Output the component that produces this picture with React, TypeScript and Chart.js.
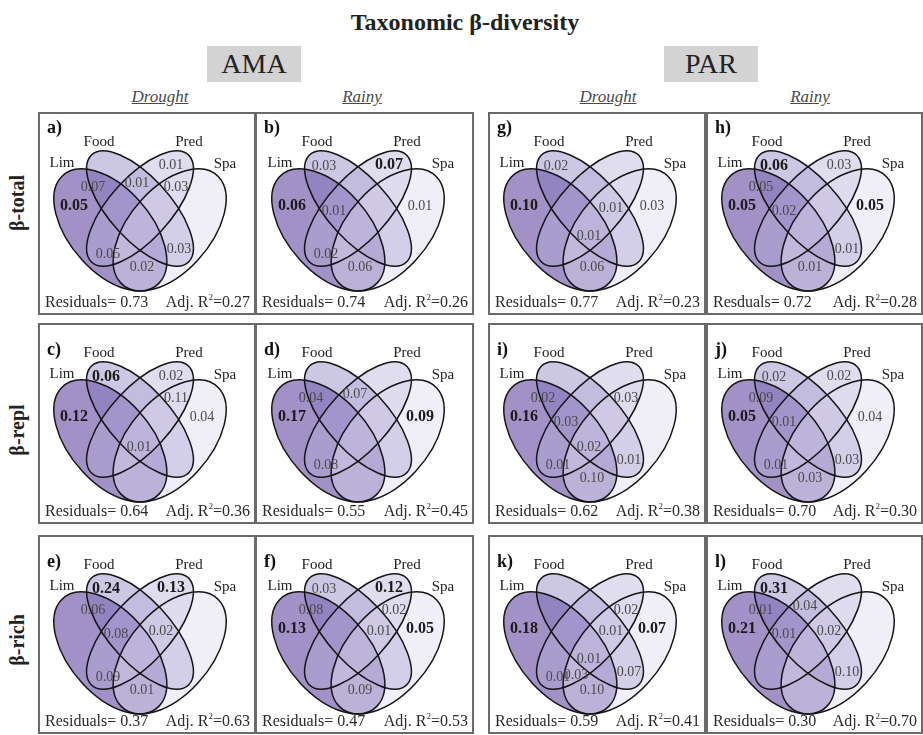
import React, { useEffect, useRef } from "react";
import { Chart, registerables } from "chart.js";

Chart.register(...registerables);

// ---------------- data ----------------
const figureTitle = "Taxonomic β-diversity";
const siteNames = ["AMA", "PAR"];
const seasonNames = ["Drought", "Rainy", "Drought", "Rainy"];
const componentNames = ["β-total", "β-repl", "β-rich"];
const setNames = ["Lim", "Food", "Pred", "Spa"];

// panels in grid order (row by row)
const panelLetters = ["a)", "b)", "g)", "h)", "c)", "d)", "i)", "j)", "e)", "f)", "k)", "l)"];
const residualWords = [
  "Residuals", "Residuals", "Residuals", "Resduals",
  "Residuals", "Residuals", "Residuals", "Residuals",
  "Residuals", "Residuals", "Residuals", "Residuals",
];
const residualValues = [0.73, 0.74, 0.77, 0.72, 0.64, 0.55, 0.62, 0.7, 0.37, 0.47, 0.59, 0.3];
const adjR2Values = [0.27, 0.26, 0.23, 0.28, 0.36, 0.45, 0.38, 0.3, 0.63, 0.53, 0.41, 0.7];

// region keys: L=Lim, F=Food, P=Pred, S=Spa (combinations = shared fractions)
const regionsA = ["LF", "FP", "P", "PS", "L", "FS", "LP", "LS"];
const valuesA = [0.07, 0.01, 0.01, 0.03, 0.05, 0.03, 0.05, 0.02];
const signifA = ["L"];

const regionsB = ["F", "P", "L", "LFP", "S", "LP", "LS"];
const valuesB = [0.03, 0.07, 0.06, 0.01, 0.01, 0.02, 0.06];
const signifB = ["P", "L"];

const regionsG = ["F", "L", "FPS", "S", "LFPS", "LS"];
const valuesG = [0.02, 0.1, 0.01, 0.03, 0.01, 0.06];
const signifG = ["L"];

const regionsH = ["F", "P", "LF", "LFP", "L", "S", "FS", "LS"];
const valuesH = [0.06, 0.03, 0.05, 0.02, 0.05, 0.05, 0.01, 0.01];
const signifH = ["F", "L", "S"];

const regionsC = ["F", "P", "PS", "S", "L", "LFPS"];
const valuesC = [0.06, 0.02, 0.11, 0.04, 0.12, 0.01];
const signifC = ["F", "L"];

const regionsD = ["LF", "FP", "L", "S", "LP"];
const valuesD = [0.04, 0.07, 0.17, 0.09, 0.08];
const signifD = ["L", "S"];

const regionsI = ["LF", "PS", "L", "LFP", "LFPS", "FS", "LP", "LS"];
const valuesI = [0.02, 0.03, 0.16, 0.03, 0.02, 0.01, 0.01, 0.1];
const signifI = ["L"];

const regionsJ = ["F", "P", "LF", "L", "LFP", "S", "FS", "LP", "LS"];
const valuesJ = [0.02, 0.02, 0.09, 0.05, 0.01, 0.04, 0.03, 0.01, 0.03];
const signifJ = ["L"];

const regionsE = ["F", "P", "LF", "LFP", "FPS", "LP", "LS"];
const valuesE = [0.24, 0.13, 0.06, 0.08, 0.02, 0.09, 0.01];
const signifE = ["F", "P"];

const regionsF = ["F", "P", "LF", "PS", "L", "FPS", "S", "LS"];
const valuesF = [0.03, 0.12, 0.08, 0.02, 0.13, 0.01, 0.05, 0.09];
const signifF = ["P", "L", "S"];

const regionsK = ["PS", "L", "FPS", "S", "FS", "LFPS", "LP", "LPS", "LS"];
const valuesK = [0.02, 0.18, 0.01, 0.07, 0.07, 0.01, 0.01, 0.03, 0.1];
const signifK = ["L", "S"];

const regionsL = ["F", "LF", "FP", "L", "LFP", "FPS", "FS"];
const valuesL = [0.31, 0.01, 0.04, 0.21, 0.01, 0.02, 0.1];
const signifL = ["F", "L"];

const PANELS = [
  { regions: regionsA, values: valuesA, signif: signifA },
  { regions: regionsB, values: valuesB, signif: signifB },
  { regions: regionsG, values: valuesG, signif: signifG },
  { regions: regionsH, values: valuesH, signif: signifH },
  { regions: regionsC, values: valuesC, signif: signifC },
  { regions: regionsD, values: valuesD, signif: signifD },
  { regions: regionsI, values: valuesI, signif: signifI },
  { regions: regionsJ, values: valuesJ, signif: signifJ },
  { regions: regionsE, values: valuesE, signif: signifE },
  { regions: regionsF, values: valuesF, signif: signifF },
  { regions: regionsK, values: valuesK, signif: signifK },
  { regions: regionsL, values: valuesL, signif: signifL },
];

// ---------------- layout (Venn unit space, y up) ----------------
const REGION_POS: Record<string, [number, number]> = {
  L: [0.167, 0.582],
  F: [0.328, 0.769],
  P: [0.657, 0.773],
  S: [0.813, 0.582],
  LF: [0.263, 0.671],
  FP: [0.485, 0.689],
  PS: [0.682, 0.671],
  LFP: [0.379, 0.558],
  FPS: [0.606, 0.572],
  LFPS: [0.495, 0.442],
  LP: [0.338, 0.357],
  FS: [0.697, 0.381],
  LS: [0.51, 0.297],
  LPS: [0.429, 0.367],
  LFS: [0.581, 0.367],
};

const ELLIPSES = [
  { cx: 0.35, cy: 0.47, a: 0.35, b: 0.2, rot: 135, fill: "rgba(88,58,155,0.56)" }, // Lim
  { cx: 0.5, cy: 0.57, a: 0.35, b: 0.15, rot: 135, fill: "rgba(120,108,182,0.38)" }, // Food
  { cx: 0.5, cy: 0.57, a: 0.35, b: 0.15, rot: 45, fill: "rgba(180,174,218,0.42)" }, // Pred
  { cx: 0.65, cy: 0.47, a: 0.35, b: 0.2, rot: 45, fill: "rgba(222,218,238,0.45)" }, // Spa
];

const SET_LABEL_POS: [number, number][] = [
  [0.106, 0.783],
  [0.293, 0.881],
  [0.747, 0.881],
  [0.929, 0.778],
];

const COL_X = [38, 255, 488, 706];
const COL_W = [218, 219, 218, 217];
const ROW_Y = [112, 323, 535];
const ROW_H = [203, 201, 199];
const LETTER_V = [0.946, 0.895, 0.895];
const SX = 198; // px per unit (x)
const SY = 214; // px per unit (y)
const ORIGIN_X = 102; // px in panel where u = 0.5
const ORIGIN_Y = 111.5; // px in panel where v = 0.5

const FONT = '"Liberation Serif", "Times New Roman", serif';

function VennPanel({ idx }: { idx: number }) {
  const ref = useRef<HTMLCanvasElement>(null);
  const col = idx % 4;
  const row = Math.floor(idx / 4);
  const W = COL_W[col];
  const H = ROW_H[row];

  useEffect(() => {
    const p = PANELS[idx];
    const ox = ORIGIN_X + (col === 1 ? 1 : 0);
    const xmin = 0.5 - ox / SX;
    const xmax = xmin + W / SX;
    const ymax = 0.5 + ORIGIN_Y / SY;
    const ymin = ymax - H / SY;
    const pts = p.regions.map((r, i) => ({
      x: REGION_POS[r][0],
      y: REGION_POS[r][1],
      v: p.values[i],
      sig: p.signif.includes(r),
    }));

    const plugin = {
      id: "venn" + idx,
      beforeDatasetsDraw(chart: any) {
        const ctx = chart.ctx as CanvasRenderingContext2D;
        const xs = chart.scales.x;
        const ys = chart.scales.y;
        const sx = xs.getPixelForValue(1) - xs.getPixelForValue(0);
        const sy = ys.getPixelForValue(0) - ys.getPixelForValue(1);
        const path = (e: any) => {
          ctx.save();
          ctx.translate(xs.getPixelForValue(e.cx), ys.getPixelForValue(e.cy));
          ctx.scale(sx, -sy);
          ctx.rotate((e.rot * Math.PI) / 180);
          ctx.beginPath();
          ctx.ellipse(0, 0, e.a, e.b, 0, 0, Math.PI * 2);
          ctx.restore();
        };
        ELLIPSES.forEach((e) => {
          path(e);
          ctx.fillStyle = e.fill;
          ctx.fill();
        });
        ctx.save();
        ctx.lineWidth = 1.5;
        ctx.strokeStyle = "#151515";
        ELLIPSES.forEach((e) => {
          path(e);
          ctx.stroke();
        });
        ctx.restore();
      },
      afterDatasetsDraw(chart: any) {
        const ctx = chart.ctx as CanvasRenderingContext2D;
        const xs = chart.scales.x;
        const ys = chart.scales.y;
        const area = chart.chartArea;
        const meta = chart.getDatasetMeta(0);
        const data = chart.data.datasets[0].data as any[];
        ctx.save();
        ctx.textAlign = "center";
        ctx.textBaseline = "middle";
        // region values
        data.forEach((d, i) => {
          const el = meta.data[i];
          ctx.font = d.sig ? `bold 16px ${FONT}` : `14px ${FONT}`;
          ctx.fillStyle = d.sig ? "#1a1a1a" : "#4a4a4a";
          ctx.fillText(d.v.toFixed(2), el.x, el.y);
        });
        // set names
        ctx.font = `15px ${FONT}`;
        ctx.fillStyle = "#222";
        setNames.forEach((n, i) => {
          ctx.fillText(n, xs.getPixelForValue(SET_LABEL_POS[i][0]), ys.getPixelForValue(SET_LABEL_POS[i][1]));
        });
        // panel letter
        ctx.textAlign = "left";
        ctx.font = `bold 18px ${FONT}`;
        ctx.fillStyle = "#111";
        ctx.fillText(panelLetters[idx], area.left + 9, ys.getPixelForValue(LETTER_V[row]));
        // residuals / adj R2
        ctx.font = `16px ${FONT}`;
        ctx.fillStyle = "#2a2a2a";
        const yb = area.bottom - 12;
        ctx.fillText(`${residualWords[idx]}= ${residualValues[idx].toFixed(2)}`, area.left + 7, yb);
        // "Adj. R" + small superscript 2 + "=value", right aligned
        const tail = `=${adjR2Values[idx].toFixed(2)}`;
        const head = "Adj. R";
        const wTail = ctx.measureText(tail).width;
        const wHead = ctx.measureText(head).width;
        ctx.font = `9px ${FONT}`;
        const wSup = ctx.measureText("2").width;
        const right = area.right - 6;
        ctx.fillText("2", right - wTail - wSup, yb - 5);
        ctx.font = `16px ${FONT}`;
        ctx.fillText(tail, right - wTail, yb);
        ctx.fillText(head, right - wTail - wSup - wHead, yb);
        // frame
        ctx.strokeStyle = "#6a6a6a";
        ctx.lineWidth = 2;
        ctx.strokeRect(area.left + 1, area.top + 1, area.right - area.left - 2, area.bottom - area.top - 2);
        ctx.restore();
      },
    };

    const chart = new Chart(ref.current as HTMLCanvasElement, {
      type: "scatter",
      data: { datasets: [{ data: pts as any, pointRadius: 0, pointHoverRadius: 0 }] },
      options: {
        animation: false,
        responsive: false,
        maintainAspectRatio: false,
        events: [],
        layout: { padding: 0 },
        plugins: { legend: { display: false }, tooltip: { enabled: false } },
        scales: {
          x: { type: "linear", min: xmin, max: xmax, display: false },
          y: { type: "linear", min: ymin, max: ymax, display: false },
        },
      },
      plugins: [plugin],
    });
    return () => chart.destroy();
  }, [idx]);

  return (
    <canvas
      ref={ref}
      width={W}
      height={H}
      style={{ position: "absolute", left: COL_X[col], top: ROW_Y[row], width: W, height: H }}
    />
  );
}

const SITE_BOX_X = [207, 664];
const SEASON_X = [160, 362, 608, 810];
const ROW_LABEL_Y = [203, 430, 640];

export default function App() {
  return (
    <div
      style={{
        position: "absolute",
        left: 0,
        top: 0,
        width: 923,
        height: 735,
        background: "#fff",
        fontFamily: FONT,
        color: "#222",
        overflow: "hidden",
      }}
    >
      <div
        style={{
          position: "absolute",
          left: 265,
          top: 8,
          width: 400,
          textAlign: "center",
          fontSize: 24,
          fontWeight: "bold",
          lineHeight: "28px",
        }}
      >
        {figureTitle}
      </div>
      {siteNames.map((s, i) => (
        <div
          key={s}
          style={{
            position: "absolute",
            left: SITE_BOX_X[i],
            top: 46,
            width: 94,
            height: 36,
            background: "#d3d3d3",
            display: "flex",
            alignItems: "center",
            justifyContent: "center",
            fontSize: 28,
            color: "#222",
          }}
        >
          {s}
        </div>
      ))}
      {seasonNames.map((s, i) => (
        <div
          key={i}
          style={{
            position: "absolute",
            left: SEASON_X[i] - 50,
            top: 86,
            width: 100,
            textAlign: "center",
            fontStyle: "italic",
            fontSize: 17,
            lineHeight: "22px",
            textDecoration: "underline",
            color: "#4a4a4a",
          }}
        >
          {s}
        </div>
      ))}
      {componentNames.map((s, i) => (
        <div
          key={s}
          style={{
            position: "absolute",
            left: 17,
            top: ROW_LABEL_Y[i],
            transform: "translate(-50%, -50%) rotate(-90deg)",
            fontWeight: "bold",
            fontSize: 20,
            whiteSpace: "nowrap",
            lineHeight: "22px",
          }}
        >
          {s}
        </div>
      ))}
      {PANELS.map((_, i) => (
        <VennPanel key={i} idx={i} />
      ))}
    </div>
  );
}
